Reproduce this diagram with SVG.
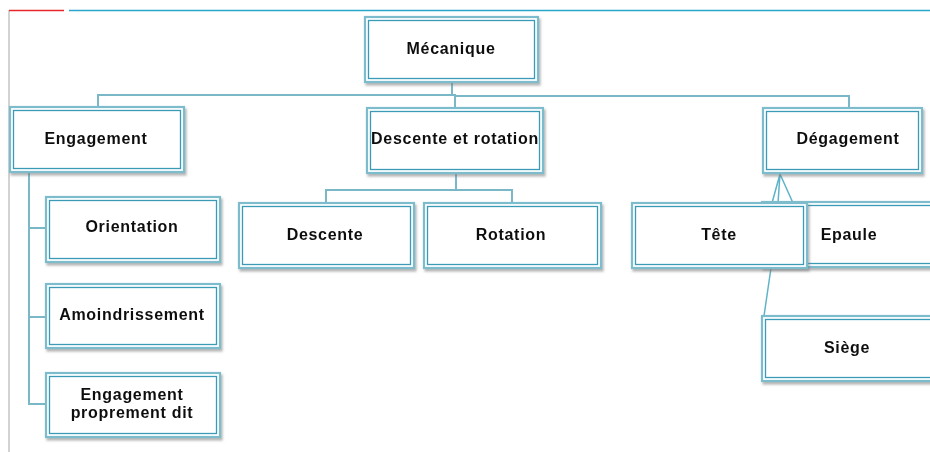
<svg xmlns="http://www.w3.org/2000/svg" width="930" height="452" viewBox="0 0 930 452">
<defs>
<filter id="sh" x="-10%" y="-10%" width="130%" height="140%">
<feDropShadow dx="1.5" dy="2.5" stdDeviation="1.2" flood-color="#777" flood-opacity="0.55"/>
</filter>
<style>
.o{fill:#fff;stroke:#7dbccc;stroke-width:2.2}
.i{fill:none;stroke:#3a9ab5;stroke-width:1.3}
.t{font-family:"Liberation Sans",Arial,sans-serif;font-weight:bold;font-size:16px;letter-spacing:0.7px;fill:#111;text-anchor:middle}
.c{fill:none;stroke:#7ab8c8;stroke-width:2}
.c2{fill:none;stroke:#5fb3c8;stroke-width:1.5}
</style>
</defs>
<rect width="930" height="452" fill="#fff"/>
<g id="frame">
<line x1="9" y1="10" x2="9" y2="452" stroke="#c4c4c4" stroke-width="1.5"/>
<line x1="9" y1="10.5" x2="64" y2="10.5" stroke="#e8262b" stroke-width="1.5"/>
<line x1="69" y1="10.5" x2="930" y2="10.5" stroke="#2aa6cc" stroke-width="1.5"/>
</g>
<g id="connectors">
<path class="c" d="M452 82 V95 H98 V108"/>
<path class="c" d="M452 95 H455 V108 M455 96 H849 V109"/>
<path class="c" d="M29 172 V404 H46 M29 228 H46 M29 317 H46"/>
<path class="c" d="M456 173 V190 H326 V203 M456 190 H512 V203"/>
<path class="c2" d="M780 174 L772 203 M780 174 L778 203 M780 174 L793 203"/>
<path class="c2" d="M771 268 L764 316"/>
</g>
<g id="mecanique" filter="url(#sh)">
<rect class="o" x="365" y="17" width="173" height="65"/><rect class="i" x="368.5" y="20.5" width="166" height="58"/>
<text class="t" x="451" y="54">Mécanique</text>
</g>
<g id="engagement" filter="url(#sh)">
<rect class="o" x="10" y="107" width="174" height="65"/><rect class="i" x="13.5" y="110.5" width="167" height="58"/>
<text class="t" x="96" y="144">Engagement</text>
</g>
<g id="descente-rotation" filter="url(#sh)">
<rect class="o" x="367" y="108" width="176" height="65"/><rect class="i" x="370.5" y="111.5" width="169" height="58"/>
<text class="t" x="455" y="144">Descente et rotation</text>
</g>
<g id="degagement" filter="url(#sh)">
<rect class="o" x="763" y="108" width="159" height="65"/><rect class="i" x="766.5" y="111.5" width="152" height="58"/>
<text class="t" x="848" y="144">Dégagement</text>
</g>
<g id="orientation" filter="url(#sh)">
<rect class="o" x="46" y="197" width="174" height="65"/><rect class="i" x="49.5" y="200.5" width="167" height="58"/>
<text class="t" x="132" y="232">Orientation</text>
</g>
<g id="amoindrissement" filter="url(#sh)">
<rect class="o" x="46" y="284" width="174" height="64"/><rect class="i" x="49.5" y="287.5" width="167" height="57"/>
<text class="t" x="132" y="320">Amoindrissement</text>
</g>
<g id="engagement-proprement-dit" filter="url(#sh)">
<rect class="o" x="46" y="373" width="174" height="64"/><rect class="i" x="49.5" y="376.5" width="167" height="57"/>
<text class="t" x="132" y="400">Engagement</text>
<text class="t" x="132" y="418">proprement dit</text>
</g>
<g id="descente" filter="url(#sh)">
<rect class="o" x="239" y="203" width="175" height="65"/><rect class="i" x="242.5" y="206.5" width="168" height="58"/>
<text class="t" x="325" y="240">Descente</text>
</g>
<g id="rotation" filter="url(#sh)">
<rect class="o" x="424" y="203" width="177" height="65"/><rect class="i" x="427.5" y="206.5" width="170" height="58"/>
<text class="t" x="511" y="240">Rotation</text>
</g>
<g id="epaule" filter="url(#sh)">
<rect class="o" x="762" y="202" width="175" height="65"/><rect class="i" x="765.5" y="205.5" width="168" height="58"/>
<text class="t" x="849" y="240">Epaule</text>
</g>
<g id="tete" filter="url(#sh)">
<rect class="o" x="632" y="203" width="175" height="65"/><rect class="i" x="635.5" y="206.5" width="168" height="58"/>
<text class="t" x="719" y="240">Tête</text>
</g>
<g id="siege" filter="url(#sh)">
<rect class="o" x="762" y="316" width="175" height="65"/><rect class="i" x="765.5" y="319.5" width="168" height="58"/>
<text class="t" x="847" y="353">Siège</text>
</g>
</svg>
